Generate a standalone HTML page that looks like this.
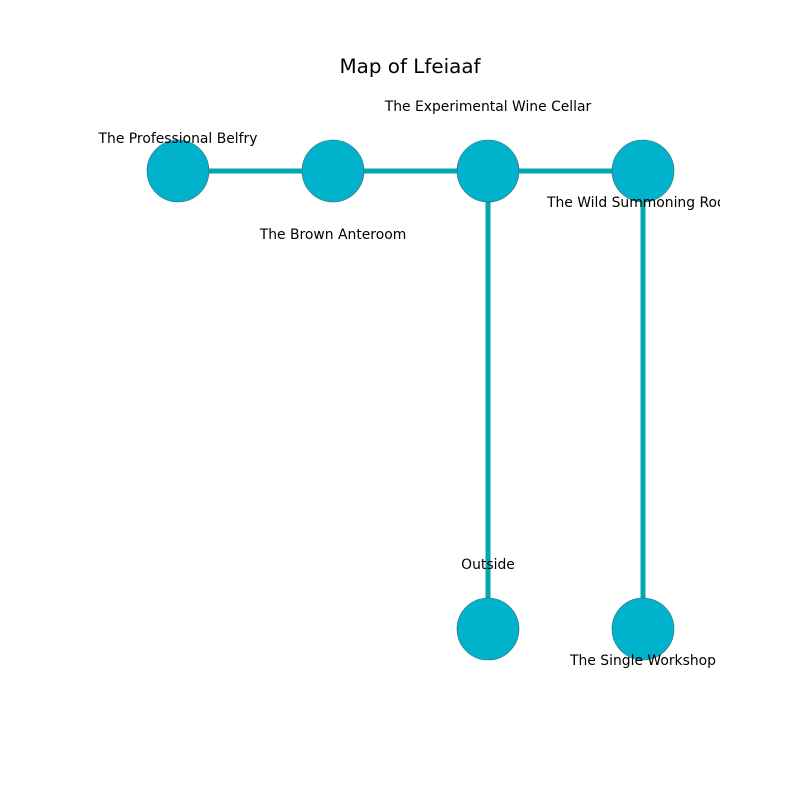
<!DOCTYPE html>
<html><head><style>html,body{margin:0;padding:0;background:#fff}</style></head><body>
<svg width="800" height="800" xmlns="http://www.w3.org/2000/svg" font-family="DejaVu Sans, Liberation Sans, sans-serif">
<defs><clipPath id="c"><rect x="80" y="0" width="640" height="800"/></clipPath></defs>
<text x="410" y="73" font-size="19.9" text-anchor="middle" fill="#000">Map of Lfeiaaf</text>
<g stroke="#00a9ad" stroke-width="5">
<line x1="178" y1="171" x2="643" y2="171"/>
<line x1="488" y1="171" x2="488" y2="629"/>
<line x1="643" y1="171" x2="643" y2="629"/>
</g>
<g fill="#00b2cb" stroke="#3a6470" stroke-width="0.6">
<circle cx="178" cy="171" r="31"/><circle cx="333" cy="171" r="31"/>
<circle cx="488" cy="171" r="31"/><circle cx="643" cy="171" r="31"/>
<circle cx="488" cy="629" r="31"/><circle cx="643" cy="629" r="31"/>
</g>
<g font-size="13.9" text-anchor="middle" fill="#000" clip-path="url(#c)">
<text x="178" y="143">The Professional Belfry</text>
<text x="333" y="239">The Brown Anteroom</text>
<text x="488" y="111">The Experimental Wine Cellar</text>
<text x="643" y="207">The Wild Summoning Room</text>
<text x="488" y="569">Outside</text>
<text x="643" y="665">The Single Workshop</text>
</g>
</svg>
</body></html>
